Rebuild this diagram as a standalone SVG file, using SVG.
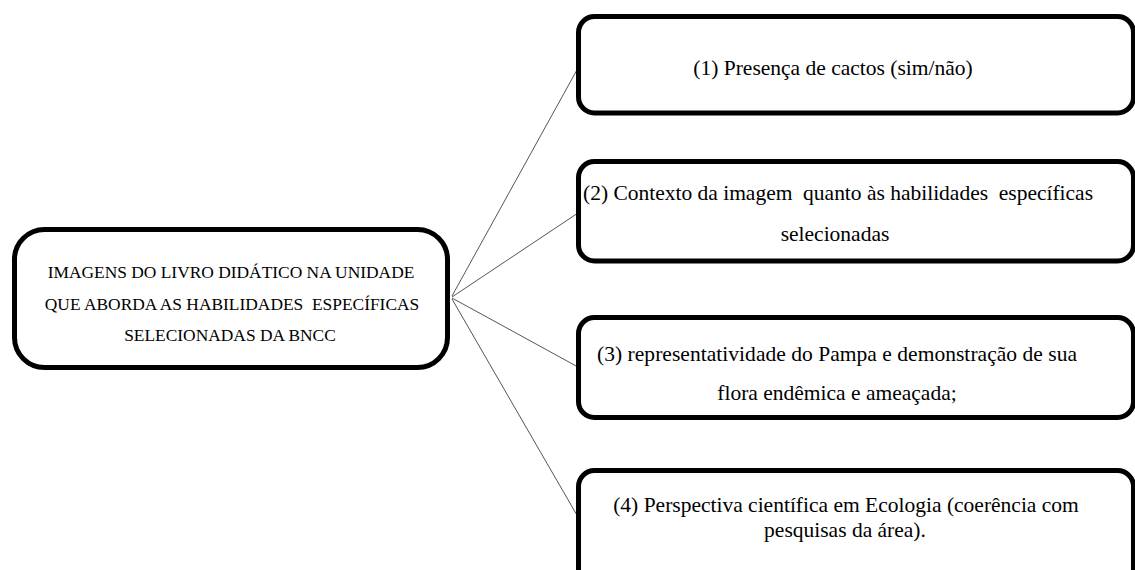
<svg xmlns="http://www.w3.org/2000/svg" width="1135" height="570" viewBox="0 0 1135 570">
<style>
.box{fill:#fff;stroke:#000;stroke-width:5}
.t{font-family:"Liberation Serif","Times New Roman",serif;fill:#000;white-space:pre}
.l{font-size:17.4px}
.r{font-size:21.5px}
.c{stroke:#555;stroke-width:1;fill:none}
</style>
<rect width="1135" height="570" fill="#fff"/>
<g id="connectors">
<line class="c" x1="452" y1="296" x2="578" y2="68"/>
<line class="c" x1="452" y1="297" x2="578" y2="213"/>
<line class="c" x1="452" y1="298" x2="578" y2="367"/>
<line class="c" x1="452" y1="299" x2="578" y2="517"/>
</g>
<g id="root">
<rect class="box" x="14.5" y="229.5" width="433" height="138" rx="30" ry="30"/>
<text class="t l" x="231" y="278" text-anchor="middle">IMAGENS DO LIVRO DIDÁTICO NA UNIDADE</text>
<text class="t l" x="232" y="310" text-anchor="middle" xml:space="preserve">QUE ABORDA AS HABILIDADES  ESPECÍFICAS</text>
<text class="t l" x="230" y="341" text-anchor="middle">SELECIONADAS DA BNCC</text>
</g>
<g id="n1">
<rect class="box" x="578.5" y="16.5" width="555" height="96.5" rx="16" ry="16"/>
<text class="t r" x="833" y="75" text-anchor="middle">(1) Presença de cactos (sim/não)</text>
</g>
<g id="n2">
<rect class="box" x="578.5" y="161.5" width="555" height="99.5" rx="16" ry="16"/>
<text class="t r" x="838" y="200" text-anchor="middle" textLength="510" lengthAdjust="spacing" xml:space="preserve">(2) Contexto da imagem  quanto às habilidades  específicas</text>
<text class="t r" x="835" y="241" text-anchor="middle">selecionadas</text>
</g>
<g id="n3">
<rect class="box" x="578.5" y="317.5" width="555" height="100" rx="16" ry="16"/>
<text class="t r" x="837" y="361" text-anchor="middle" textLength="480" lengthAdjust="spacing">(3) representatividade do Pampa e demonstração de sua</text>
<text class="t r" x="837" y="400" text-anchor="middle">flora endêmica e ameaçada;</text>
</g>
<g id="n4">
<rect class="box" x="578.5" y="470.5" width="555" height="120" rx="16" ry="16"/>
<text class="t r" x="846" y="512" text-anchor="middle">(4) Perspectiva científica em Ecologia (coerência com</text>
<text class="t r" x="845" y="537" text-anchor="middle">pesquisas da área).</text>
</g>
</svg>
